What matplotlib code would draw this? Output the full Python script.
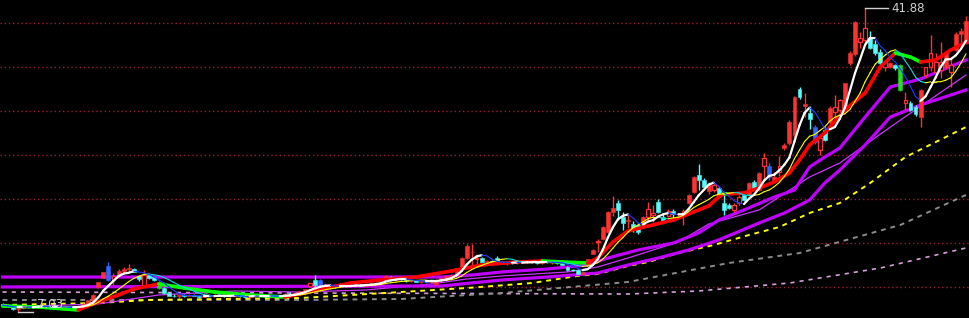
import matplotlib
matplotlib.use('Agg')
import matplotlib.pyplot as plt
from matplotlib.collections import LineCollection
import numpy as np
import pandas as pd

# daily candles (192 bars)
opens = [7.90, 7.80, 7.65, 7.40, 7.50, 7.62, 7.70, 7.60, 7.68, 7.75,
         7.60, 7.55, 7.62, 7.58, 7.52, 7.55, 7.70, 7.95, 8.40, 9.90,
         10.95, 12.30, 10.70, 11.20, 11.70, 11.90, 12.00, 11.15, 10.15, 11.25,
         11.00, 10.50, 9.75, 9.20, 8.90, 8.80, 8.95, 8.85, 9.00, 8.85,
         8.75, 8.90, 8.85, 8.95, 8.90, 8.80, 8.90, 8.95, 8.80, 8.70,
         8.80, 8.95, 8.85, 8.80, 8.90, 8.75, 8.85, 9.10, 9.05, 9.25,
         9.40, 9.95, 10.70, 10.70, 10.10, 9.95, 9.85, 10.10, 10.00, 10.10,
         10.00, 10.15, 10.05, 10.25, 10.30, 10.35, 10.60, 11.00, 10.90, 10.75,
         10.70, 10.55, 10.65, 10.50, 10.60, 10.45, 10.20, 10.70, 10.90, 11.10,
         11.30, 12.05, 13.20, 13.85, 13.10, 13.20, 12.75, 12.85, 13.20, 12.75,
         12.60, 12.70, 12.65, 12.75, 12.70, 12.80, 12.75, 12.65, 12.80, 12.70,
         12.75, 12.60, 12.20, 11.85, 11.85, 11.40, 12.55, 13.70, 15.10, 15.35,
         16.20, 18.50, 19.50, 17.90, 17.50, 17.15, 17.00, 17.05, 17.95, 18.15,
         19.65, 17.90, 18.05, 18.65, 18.20, 18.00, 19.50, 20.80, 22.70, 22.15,
         20.90, 21.00, 21.20, 19.50, 19.30, 18.70, 19.50, 20.40, 20.40, 21.95,
         21.00, 23.75, 23.75, 22.20, 23.10, 25.80, 26.40, 27.35, 32.60, 30.70,
         29.80, 28.20, 25.60, 27.90, 28.80, 30.00, 30.20, 30.20, 35.60, 36.60,
         38.00, 38.20, 38.40, 37.80, 36.80, 35.10, 35.15, 35.30, 35.35, 31.00,
         31.00, 30.50, 29.40, 34.20, 35.10, 34.50, 34.80, 35.10, 34.50, 37.10,
         38.90, 37.90]
highs = [8.10, 7.95, 7.80, 7.60, 7.75, 7.80, 7.85, 7.78, 7.90, 7.85,
         7.72, 7.70, 7.75, 7.70, 7.65, 7.75, 8.00, 8.45, 9.10, 10.50,
         11.65, 12.75, 11.50, 11.90, 12.20, 12.50, 12.10, 11.30, 11.80, 11.40,
         11.10, 10.55, 9.85, 9.30, 9.10, 9.00, 9.05, 9.05, 9.10, 8.95,
         8.95, 9.05, 9.00, 9.10, 9.00, 8.95, 9.05, 9.05, 8.90, 8.85,
         9.00, 9.05, 8.95, 8.95, 9.00, 8.90, 9.20, 9.30, 9.30, 9.45,
         9.70, 10.40, 11.30, 10.75, 10.20, 10.00, 10.05, 10.30, 10.15, 10.20,
         10.20, 10.25, 10.30, 10.45, 10.40, 10.60, 11.30, 11.10, 10.95, 10.90,
         10.80, 10.70, 10.70, 10.65, 10.65, 10.60, 10.85, 11.00, 11.20, 11.40,
         12.10, 13.30, 14.80, 14.85, 13.70, 13.30, 12.95, 13.00, 13.40, 12.90,
         12.80, 12.85, 12.80, 12.90, 13.00, 12.95, 12.90, 12.85, 12.95, 12.85,
         12.85, 12.70, 12.30, 12.00, 11.95, 11.60, 13.10, 14.20, 15.40, 16.85,
         18.60, 20.30, 19.85, 18.50, 18.15, 17.40, 17.20, 18.00, 19.65, 19.30,
         20.00, 18.20, 18.80, 18.80, 18.40, 18.80, 20.60, 22.60, 24.00, 22.40,
         21.90, 21.80, 21.50, 20.70, 19.50, 19.50, 20.40, 20.70, 21.90, 22.20,
         23.10, 25.25, 24.05, 23.10, 24.90, 26.40, 29.00, 31.80, 32.85, 32.10,
         30.70, 28.50, 27.30, 28.20, 30.60, 31.90, 31.40, 33.30, 36.90, 40.40,
         39.10, 41.88, 39.30, 38.20, 37.20, 35.80, 35.70, 35.50, 35.50, 32.25,
         31.20, 30.80, 32.60, 35.10, 38.80, 36.70, 38.00, 37.00, 36.30, 39.10,
         39.60, 41.00]
lows = [7.70, 7.55, 7.30, 7.03, 7.40, 7.50, 7.55, 7.50, 7.60, 7.55,
        7.48, 7.45, 7.50, 7.45, 7.40, 7.50, 7.65, 7.90, 8.35, 9.80,
        10.90, 10.60, 10.10, 11.00, 11.40, 11.70, 11.60, 10.60, 10.10, 10.80,
        10.60, 9.70, 9.10, 8.80, 8.70, 8.65, 8.75, 8.80, 8.80, 8.65,
        8.70, 8.80, 8.70, 8.85, 8.70, 8.70, 8.80, 8.75, 8.60, 8.60,
        8.75, 8.80, 8.70, 8.65, 8.70, 8.65, 8.80, 9.00, 9.00, 9.20,
        9.35, 9.90, 9.30, 10.05, 9.85, 9.80, 9.80, 9.95, 9.90, 9.95,
        9.95, 10.00, 10.00, 10.15, 10.20, 10.30, 10.55, 10.75, 10.70, 10.60,
        10.50, 10.45, 10.45, 10.40, 10.40, 10.35, 10.15, 10.60, 10.85, 11.05,
        11.25, 12.00, 13.10, 12.40, 12.20, 12.70, 12.55, 12.60, 12.70, 12.50,
        12.45, 12.55, 12.50, 12.60, 12.60, 12.65, 12.55, 12.55, 12.65, 12.55,
        12.50, 12.40, 11.75, 11.70, 11.35, 11.30, 12.50, 13.65, 13.90, 15.30,
        16.10, 18.00, 17.55, 16.40, 16.65, 16.20, 15.95, 17.00, 17.60, 17.35,
        18.40, 17.40, 17.90, 17.95, 17.80, 17.00, 19.40, 20.70, 21.00, 21.30,
        20.60, 20.80, 20.30, 18.15, 18.80, 18.50, 19.30, 19.70, 20.30, 21.10,
        20.90, 22.10, 22.20, 21.90, 22.60, 25.60, 26.20, 27.00, 31.50, 29.40,
        28.00, 26.30, 25.05, 26.60, 28.60, 28.80, 29.90, 30.00, 35.40, 36.40,
        37.30, 37.50, 37.20, 36.50, 35.40, 34.70, 35.00, 34.80, 32.40, 30.20,
        30.10, 29.50, 28.20, 33.80, 34.60, 33.90, 33.90, 34.90, 32.80, 36.90,
        38.00, 37.80]
closes = [7.80, 7.65, 7.40, 7.50, 7.62, 7.70, 7.60, 7.68, 7.75, 7.60,
          7.55, 7.62, 7.58, 7.52, 7.55, 7.70, 7.95, 8.40, 9.00, 10.45,
          11.60, 10.70, 11.20, 11.70, 11.90, 12.05, 11.65, 10.75, 11.25, 10.95,
          10.70, 9.75, 9.20, 8.90, 8.80, 8.95, 8.85, 9.00, 8.85, 8.75,
          8.90, 8.85, 8.95, 8.90, 8.80, 8.90, 8.95, 8.80, 8.70, 8.80,
          8.95, 8.85, 8.80, 8.90, 8.75, 8.85, 9.10, 9.05, 9.25, 9.40,
          9.65, 10.30, 10.10, 10.10, 9.95, 9.85, 10.00, 10.00, 10.10, 10.00,
          10.15, 10.05, 10.25, 10.30, 10.35, 10.55, 11.20, 10.85, 10.75, 10.70,
          10.55, 10.65, 10.50, 10.60, 10.45, 10.55, 10.70, 10.90, 11.10, 11.30,
          12.05, 13.20, 14.55, 13.95, 13.20, 12.75, 12.85, 12.70, 12.75, 12.60,
          12.70, 12.65, 12.75, 12.70, 12.80, 12.75, 12.65, 12.80, 12.70, 12.75,
          12.60, 12.45, 11.85, 11.80, 11.40, 11.55, 13.05, 14.15, 15.20, 16.80,
          18.50, 19.00, 18.75, 17.20, 17.60, 16.45, 16.20, 17.90, 18.85, 18.40,
          18.50, 17.50, 18.60, 18.20, 18.30, 18.60, 20.40, 22.50, 22.15, 21.35,
          21.70, 21.60, 20.45, 18.70, 18.95, 19.30, 20.20, 19.85, 21.80, 21.25,
          22.95, 24.65, 22.50, 22.50, 23.75, 26.15, 28.80, 31.70, 31.70, 30.90,
          29.15, 26.50, 26.95, 26.80, 30.40, 30.50, 31.30, 33.25, 36.70, 40.30,
          38.40, 39.60, 37.35, 36.70, 35.60, 35.70, 35.55, 34.95, 32.50, 31.30,
          30.20, 29.70, 32.45, 35.10, 36.70, 35.70, 35.70, 36.70, 35.30, 38.90,
          39.30, 40.40]

blue_days = [21, 63, 84, 152, 161]
green_days = [31, 178]
hollow_days = [22, 28, 61, 75, 94, 118, 128, 129, 132, 135, 141, 145, 146, 151,
               154, 162, 165, 166, 170, 171, 175, 179, 183, 184, 185, 186, 188]

# mid-term average (red rising / green falling), read at knots
rg_day = [0, 7, 15, 19, 23, 26, 29, 31, 36, 42, 49, 56, 59, 69, 75, 82, 89, 95,
          102, 107, 111, 116, 118, 121, 124, 128, 133, 136, 140, 142, 143, 144,
          147, 150, 153, 156, 158, 160, 163, 167, 171, 174, 177, 180, 182, 185,
          188, 191]
rg_val = [7.71, 7.59, 7.25, 8.17, 8.97, 9.66, 10.00, 10.23, 9.77, 9.31, 8.97,
          8.74, 9.08, 10.35, 10.69, 11.03, 11.72, 12.41, 12.75, 12.87, 12.75,
          12.64, 13.21, 15.05, 16.31, 16.88, 17.57, 18.26, 19.18, 20.21, 20.60,
          20.55, 20.67, 21.24, 21.93, 22.96, 24.45, 26.17, 27.55, 30.19, 32.13,
          35.12, 36.72, 36.26, 35.69, 35.92, 37.07, 37.98]

# long averages (need history before the window), read at knots
ma_a_day = [0, 87, 93, 99, 108, 116, 120, 126, 133, 138, 142, 147, 153, 157,
            160, 163, 166, 171, 176, 182, 191]
ma_a_val = [11.03, 11.03, 11.26, 11.61, 11.95, 12.41, 13.21, 14.13, 14.93,
            16.08, 17.57, 18.72, 20.20, 21.01, 23.65, 24.79, 25.83, 29.38,
            32.82, 33.74, 35.92]
ma_b_day = [0, 87, 93, 99, 108, 118, 124, 130, 136, 142, 150, 155, 160, 163,
            166, 171, 176, 182, 191]
ma_b_val = [9.89, 10.00, 10.35, 10.69, 11.03, 11.49, 12.41, 13.21, 14.13,
            15.28, 17.23, 18.37, 19.86, 21.81, 23.30, 26.17, 29.38, 30.76, 32.48]
ma_c_day = [0, 19, 31, 46, 59, 72, 85, 92, 99, 112, 118, 124, 134, 140, 150,
            160, 166, 176, 191]
ma_c_val = [7.59, 7.94, 8.97, 9.43, 9.31, 9.54, 10.23, 10.80, 11.15, 11.61,
            12.18, 13.21, 15.05, 17.11, 18.72, 22.50, 24.11, 28.23, 34.20]
ma_y_day = [0, 19, 29, 59, 79, 92, 105, 114, 118, 124, 128, 134, 141, 148,
            154, 160, 166, 172, 179, 191]
ma_y_val = [7.82, 8.05, 8.40, 8.62, 9.31, 9.77, 10.34, 11.15, 11.38, 12.29,
            12.75, 13.78, 14.70, 15.85, 16.76, 18.37, 19.52, 21.81, 24.79, 28.23]
ma_g_day = [0, 59, 79, 99, 124, 144, 158, 178, 191]
ma_g_val = [8.40, 8.40, 8.51, 9.20, 10.46, 12.64, 13.78, 17.00, 20.44]
ma_p_day = [0, 59, 124, 138, 156, 174, 191]
ma_p_val = [9.31, 9.20, 9.08, 9.43, 10.34, 12.06, 14.36]

hi_day, hi_price = 171, 41.88
lo_day, lo_price = 3, 7.03

RED = '#ff3232'
CYAN = '#54ffff'


def slope_line(ax, xs, ys, up_col, dn_col, up_lw, dn_lw, z):
    xs = np.asarray(xs, float)
    ys = np.asarray(ys, float)
    segs = [[(xs[k], ys[k]), (xs[k + 1], ys[k + 1])] for k in range(len(xs) - 1)]
    rising = np.diff(ys) >= 0
    cols = [up_col if r else dn_col for r in rising]
    lws = [up_lw if r else dn_lw for r in rising]
    lc = LineCollection(segs, colors=cols, linewidths=lws, zorder=z,
                        capstyle='round', joinstyle='round')
    ax.add_collection(lc)


fig = plt.figure(figsize=(9.69, 3.18), dpi=100, facecolor='black')
ax = fig.add_axes([0, 0, 1, 1])
ax.set_facecolor('black')
ax.set_xlim(-0.5, 191.6)
ax.set_ylim(6.33, 42.80)
ax.set_axis_off()

# dotted grid
for gy in [23, 67, 111, 155, 199, 243, 287]:
    f = 1 - gy / 318.0
    ax.plot([0, 1], [f, f], transform=ax.transAxes, color='#a01c2c',
            lw=1.0, ls=(0, (1, 2)), zorder=1)

# long averages
ax.plot(ma_p_day, ma_p_val, color='#d8a0d8', lw=1.2, ls=(0, (2.5, 3)), zorder=2)
ax.plot(ma_g_day, ma_g_val, color='#8c8c8c', lw=1.4, ls=(0, (2.5, 2.5)), zorder=2)
ax.plot(ma_y_day, ma_y_val, color='#ffff00', lw=1.4, ls=(0, (2.5, 2.5)), zorder=2)
ax.plot(ma_c_day, ma_c_val, color='#cc33ff', lw=0.9, zorder=2)
ax.plot(ma_b_day, ma_b_val, color='#c000ff', lw=2.3, zorder=2)
ax.plot(ma_a_day, ma_a_val, color='#c000ff', lw=2.3, zorder=2)

# candles
idx = np.arange(len(closes))
prev_c = None
for i in idx:
    o, h, l, c = opens[i], highs[i], lows[i], closes[i]
    col = RED if c >= o else CYAN
    if i in blue_days:
        col = '#3366ff'
    if i in green_days:
        col = '#22dd22'
    lo_b, hi_b = min(o, c), max(o, c)
    ax.vlines(i, l, lo_b, color=col, lw=1.0, zorder=3)
    ax.vlines(i, hi_b, h, color=col, lw=1.0, zorder=3)
    if hi_b - lo_b < 0.06:
        ax.hlines(o, i - 0.4, i + 0.4, color=col, lw=1.0, zorder=3)
    elif i in hollow_days:
        ax.bar(i, hi_b - lo_b, bottom=lo_b, width=0.72, facecolor='black',
               edgecolor=col, linewidth=0.9, zorder=3)
    else:
        ax.bar(i, hi_b - lo_b, bottom=lo_b, width=0.78, facecolor=col,
               edgecolor=col, linewidth=0.4, zorder=3)

# short averages from closes
s = pd.Series(closes)
ma5 = s.rolling(5, min_periods=1).mean().values
ma10 = s.rolling(10, min_periods=1).mean().values
slope_line(ax, rg_day, rg_val, '#ff0000', '#00ff00', 2.6, 2.6, 4)
slope_line(ax, idx, ma10, '#ffff00', '#00e0e0', 0.8, 0.8, 5)
slope_line(ax, idx, ma5, '#ffffff', '#1a3cff', 1.6, 0.8, 6)

# high / low marks
ax.plot([hi_day, hi_day + 4.5], [hi_price, hi_price], color='#d0d0d0', lw=1, zorder=7)
ax.text(hi_day + 5.2, hi_price, '%.2f' % hi_price, color='#d0d0d0', fontsize=8.5,
        va='center', ha='left', zorder=7)
ax.plot([lo_day, lo_day + 3.1], [lo_price, lo_price], color='#d0d0d0', lw=1, zorder=7)
ax.text(lo_day + 3.8, lo_price + 0.15, '%.2f' % lo_price, color='#d0d0d0',
        fontsize=8.5, va='bottom', ha='left', zorder=7)

fig.savefig('out.png', dpi=100, facecolor='black')
